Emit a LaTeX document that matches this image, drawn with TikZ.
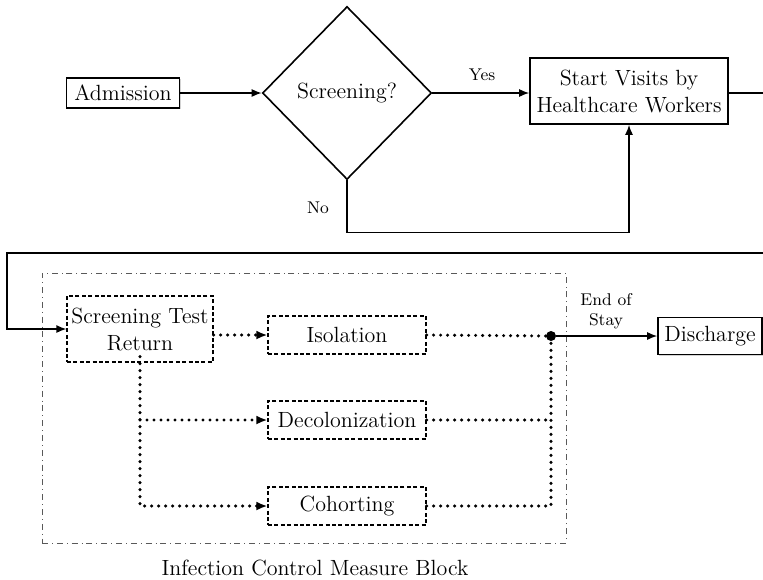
\documentclass[tikz,border=0pt]{standalone}
\usepackage{tikz}
\usetikzlibrary{arrows.meta,shapes.geometric,shadows}

\begin{document}
\begin{tikzpicture}[x=0.5pt, y=-0.5pt,
    solidbox/.style={draw, line width=0.8pt, fill=white, inner sep=0pt, align=center,
      font=\fontsize{11}{13.5}\selectfont,
      drop shadow={shadow xshift=0.7pt, shadow yshift=-0.7pt, opacity=0.35}},
    dashbox/.style={draw, dash pattern=on 2pt off 1.2pt, line width=0.6pt, inner sep=0pt, align=center,
      font=\fontsize{11}{13.5}\selectfont},
    flow/.style={line width=0.7pt, -{Latex[length=5pt,width=4pt]}},
    dots/.style={line width=1.7pt, dash pattern=on 0pt off 3.5pt, line cap=round},
    dotflow/.style={dots, -{Latex[length=5.5pt,width=4.5pt]}},
    lbl/.style={font=\fontsize{8.5}{10}\selectfont, align=center}]
    \useasboundingbox (0,0) rectangle (763,579);

    \node[solidbox, minimum width=56.5pt, minimum height=15pt] (adm) at (123,93) {Admission};
    \node[draw, diamond, line width=0.8pt, inner sep=0pt, minimum width=84.5pt, minimum height=86.5pt,
      font=\fontsize{11}{13.5}\selectfont] (scr) at (347,93) {Screening?};
    \node[solidbox, minimum width=99pt, minimum height=33pt] (visit) at (629,91) {Start Visits by\\Healthcare Workers};
    \coordinate (r1) at (763,93);
    \node[lbl] (yes) at (482,75) {Yes};
    \node[lbl] (no) at (318,208) {No};

    \draw[flow] (adm) -- (scr);
    \draw[flow] (scr) -- (visit.west |- scr);
    \draw[flow] (scr.south) -- ++(0,52) -| (visit.south);
    \draw[line width=0.7pt] (visit.east |- r1) -- (r1);

    \node[draw, dash dot, line width=0.4pt, gray!70!black, minimum width=262pt, minimum height=135pt] (blk) at (304,408) {};
    \node[font=\fontsize{11}{13.5}\selectfont] (cap) at (315,568) {Infection Control Measure Block};

    \node[dashbox, minimum width=73pt, minimum height=33pt] (str) at (140,329) {Screening Test\\Return};
    \node[dashbox, minimum width=79pt, minimum height=19pt] (iso) at (347,335) {Isolation};
    \node[dashbox, minimum width=79pt, minimum height=19pt] (decol) at (347,420) {Decolonization};
    \node[dashbox, minimum width=79pt, minimum height=19pt] (cohort) at (347,506) {Cohorting};
    \node[circle, fill, inner sep=0pt, minimum size=5pt] (jn) at (551,336) {};
    \node[solidbox, minimum width=52pt, minimum height=18.5pt] (dis) at (710,336) {Discharge};
    \node[lbl] (eos) at (606,311) {End of\\Stay};

    \coordinate (r2) at (763,253);
    \coordinate (l2) at (7,253);
    \draw[flow] (r2) -- (l2) |- (str.west);

    \draw[dotflow] (str.east |- iso) -- (iso.west);
    \draw[dotflow] (str.south |- decol) -- (decol.west);
    \draw[dotflow] (str.south) ++(0,-6) |- (cohort.west);
    \draw[dots] (iso.east) -- (jn);
    \draw[dots] (decol.east) -- (jn |- decol);
    \draw[dots] (cohort.east) -| (jn);
    \draw[flow] (jn) -- (dis.west);
\end{tikzpicture}
\end{document}
